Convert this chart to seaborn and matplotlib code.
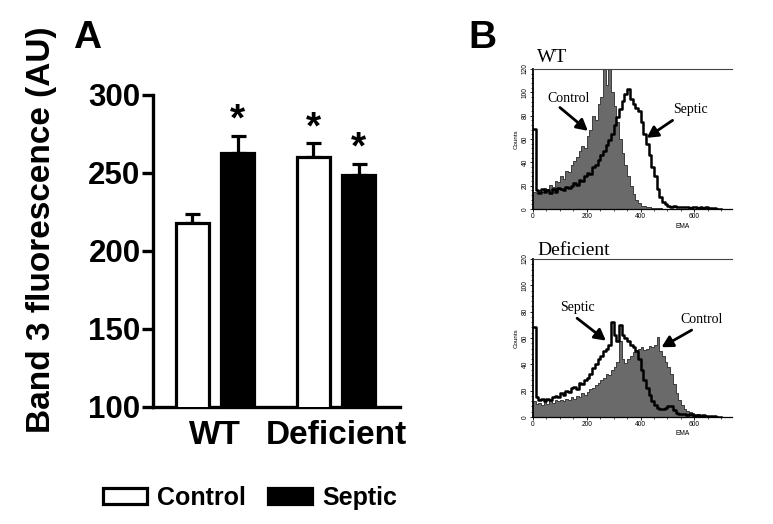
import numpy as np
import pandas as pd
import matplotlib
matplotlib.use("Agg")
import matplotlib.pyplot as plt
import seaborn as sns
from matplotlib.patches import Patch
from matplotlib.ticker import MultipleLocator, FixedLocator

# ---------------- data : panel A ----------------
genotype = ["WT", "WT", "Deficient", "Deficient"]
condition = ["Control", "Septic", "Control", "Septic"]
band3_mean = [218, 263, 260, 249]
band3_sem = [6, 11, 9, 7]
significant = [False, True, True, True]

# ---------------- data : panel B (EMA histograms, 10-unit channels) ----------------
ema_bin_width = 10
ema_bin_start = np.arange(0, 700, ema_bin_width)
wt_control = [15, 14, 16, 15, 18, 17, 21, 19, 24, 23,
              28, 26, 33, 32, 38, 41, 45, 50, 54, 52,
              63, 68, 80, 76, 90, 96, 120, 106, 121, 100,
              88, 75, 60, 48, 38, 28, 20, 13, 8, 5,
              3, 2.5, 2, 1.5, 1, 1, 0.5, 0.5, 0, 0,
              0, 0, 0, 0, 0, 0, 0, 0, 0, 0,
              0, 0, 0, 0, 0, 0, 0, 0, 0, 0]
wt_septic = [69, 16, 14, 17, 15, 16, 14, 17, 15, 18,
             17, 16, 19, 18, 20, 22, 21, 25, 24, 28,
             31, 30, 36, 38, 42, 46, 50, 55, 59, 64,
             72, 79, 86, 93, 99, 103, 94, 90, 87, 84,
             75, 64, 56, 46, 36, 28, 17, 10, 6, 4,
             3, 2, 3, 2, 1.5, 2, 1.5, 2, 1, 2,
             1.5, 1, 2, 1, 1.5, 1, 1, 0.5, 0, 0]
def_control = [12, 10, 11, 9, 12, 10, 12, 11, 13, 12,
               13, 12, 14, 13, 15, 14, 16, 15, 18, 17,
               19, 21, 22, 24, 26, 28, 30, 33, 32, 36,
               38, 42, 58, 44, 41, 44, 46, 49, 51, 52,
               53, 51, 52, 54, 53, 55, 61, 50, 46, 42,
               38, 33, 25, 18, 13, 9, 6, 4.5, 3.5, 3,
               2, 2, 1.5, 1.5, 1, 1, 1, 0.5, 0, 0]
def_septic = [68, 15, 13, 14, 12, 14, 13, 15, 16, 15,
              18, 17, 20, 19, 22, 23, 21, 26, 25, 28,
              30, 33, 37, 40, 44, 46, 50, 52, 55, 72,
              62, 58, 70, 62, 60, 58, 55, 53, 50, 44,
              36, 28, 22, 17, 12, 9, 7, 6, 6, 7,
              8, 8, 5, 3, 2.5, 2, 2, 1.5, 2, 1.5,
              1, 1.5, 1, 1.5, 1, 1, 1, 0.5, 0, 0]

GRAY = "#6a6a6a"
SANS = ["Liberation Sans", "DejaVu Sans"]
SERIF = ["Liberation Serif", "DejaVu Serif"]
plt.rcParams["font.family"] = SANS

W, H = 773, 524
fig = plt.figure(figsize=(W / 100, H / 100), dpi=100)


def fbox(x0, y0, x1, y1):
    return [x0 / W, 1 - y1 / H, (x1 - x0) / W, (y1 - y0) / H]


# ================= Panel A =================
axA = fig.add_axes(fbox(153, 95, 400, 407))
df = pd.DataFrame({"Genotype": genotype, "Condition": condition, "Band3": band3_mean})
sns.barplot(data=df, x="Genotype", y="Band3", hue="Condition",
            order=["WT", "Deficient"], hue_order=["Control", "Septic"],
            palette={"Control": "white", "Septic": "black"},
            edgecolor="black", linewidth=2.3, width=0.75, gap=0.27,
            errorbar=None, legend=False, ax=axA, zorder=3)

for p in axA.patches:
    h = p.get_height()
    if h in band3_mean:
        i = band3_mean.index(h)
        xc = p.get_x() + p.get_width() / 2
        axA.errorbar([xc], [h], yerr=[[0], [band3_sem[i]]], fmt="none",
                     ecolor="black", elinewidth=2.3, capsize=5.4, capthick=2.3,
                     zorder=2, clip_on=False)
        if significant[i]:
            axA.text(xc, h + band3_sem[i] + 3, "*", ha="center", va="baseline",
                     fontsize=28, fontweight="bold", clip_on=False)

axA.set_ylim(100, 300)
axA.set_xlim(-0.512, 1.529)
axA.yaxis.set_major_locator(FixedLocator([100, 150, 200, 250, 300]))
for s in ["top", "right"]:
    axA.spines[s].set_visible(False)
for s in ["left", "bottom"]:
    axA.spines[s].set_linewidth(2.4)
axA.tick_params(axis="y", length=8, width=2.4, labelsize=22.5, pad=1)
axA.tick_params(axis="x", length=0, labelsize=24, pad=9)
for lbl in axA.get_yticklabels() + axA.get_xticklabels():
    lbl.set_fontweight("bold")
axA.set_xlabel("")
axA.set_ylabel("")

fig.text(42 / W, 1 - 230 / H, "Band 3 fluorescence (AU)", rotation=90,
         ha="center", va="center", fontsize=24, fontweight="bold")
fig.text(73 / W, 1 - 48 / H, "A", fontsize=28, fontweight="bold", va="baseline")
fig.text(468 / W, 1 - 48 / H, "B", fontsize=28, fontweight="bold", va="baseline")

handles = [Patch(facecolor="white", edgecolor="black", linewidth=2.3, label="Control"),
           Patch(facecolor="black", edgecolor="black", linewidth=2.3, label="Septic")]
axA.legend(handles=handles, loc="center", bbox_to_anchor=(250 / W, 1 - 498 / H),
           bbox_transform=fig.transFigure, ncol=2, frameon=False,
           prop=dict(weight="bold", size=18), handlelength=1.76, handleheight=0.64,
           handletextpad=0.4, columnspacing=0.9)

# ================= Panel B =================


def hist_panel(ax, ctrl, sept, title, title_y, ema_y, notes):
    hd = pd.DataFrame({"EMA": ema_bin_start, "ctrl": ctrl, "sept": sept})
    rng = (0, int(ema_bin_start[-1] + ema_bin_width))
    sns.histplot(data=hd, x="EMA", weights="ctrl", binwidth=ema_bin_width,
                 binrange=rng, element="step", fill=True, color=GRAY, alpha=1,
                 linewidth=0.6, edgecolor="#2a2a2a", ax=ax)
    sns.histplot(data=hd, x="EMA", weights="sept", binwidth=ema_bin_width,
                 binrange=rng, element="step", fill=False, color="black",
                 linewidth=1.8, ax=ax)
    ax.set_xlim(0, 740)
    ax.set_ylim(0, 120)
    ax.spines["right"].set_visible(False)
    ax.spines["left"].set_linewidth(1.3)
    ax.spines["bottom"].set_linewidth(0.9)
    ax.spines["top"].set_linewidth(0.8)
    ax.spines["top"].set_color("#444444")
    ax.xaxis.set_major_locator(FixedLocator([0, 200, 400, 600]))
    ax.xaxis.set_minor_locator(MultipleLocator(50))
    ax.yaxis.set_major_locator(MultipleLocator(20))
    ax.yaxis.set_minor_locator(MultipleLocator(4))
    ax.tick_params(axis="both", which="major", length=2, width=0.6, labelsize=4.8, pad=1)
    ax.tick_params(axis="both", which="minor", length=1.2, width=0.5)
    for lbl in ax.get_yticklabels():
        lbl.set_rotation(90)
        lbl.set_va("center")
    ax.set_ylabel("Counts", fontsize=4.5, labelpad=2)
    ax.set_xlabel("EMA", fontsize=4.8)
    ax.xaxis.set_label_coords(0.754, ema_y)
    ax.text(0.02, title_y, title, transform=ax.transAxes, fontsize=14,
            family=SERIF, va="baseline", ha="left")
    for txt, tpos, tail, head in notes:
        ax.text(tpos[0], tpos[1], txt, fontsize=10, family=SERIF,
                ha="center", va="center")
        ax.annotate("", xy=head, xytext=tail,
                    arrowprops=dict(arrowstyle="-|>,head_length=0.55,head_width=0.3",
                                    lw=2, color="black", shrinkA=0, shrinkB=0,
                                    mutation_scale=12))


axT = fig.add_axes(fbox(533, 69, 732, 209))
hist_panel(axT, wt_control, wt_septic, "WT", 1.05, -0.1,
           [("Control", (134, 95), (100, 87), (204, 67)),
            ("Septic", (584, 85), (519, 76), (423, 61))])

axD = fig.add_axes(fbox(533, 259, 732, 417))
hist_panel(axD, def_control, def_septic, "Deficient", 1.025, -0.085,
           [("Septic", (164, 83.5), (164, 75), (271, 58)),
            ("Control", (625, 74), (590, 66), (478, 53))])

fig.savefig("out.png", dpi=100)
